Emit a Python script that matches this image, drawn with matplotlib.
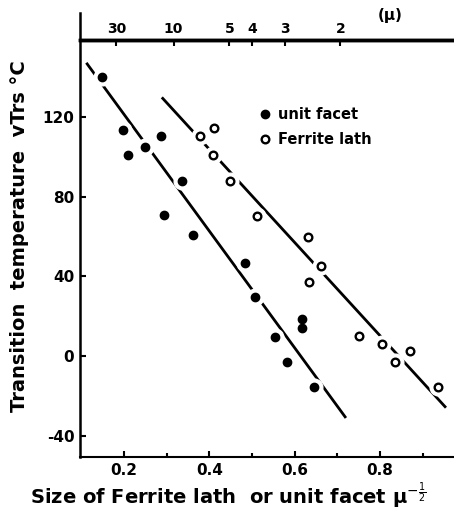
import numpy as np
import matplotlib.pyplot as plt
from matplotlib.lines import Line2D

# unit facet (filled) and Ferrite lath (open) points, x = size^-1/2
facet_x = [0.148, 0.198, 0.210, 0.249, 0.287, 0.294, 0.337, 0.362,
           0.483, 0.507, 0.554, 0.582, 0.618, 0.618, 0.646]
facet_y = [139.9, 113.4, 100.9, 104.7, 110.4, 70.6, 88.0, 60.7,
           46.8, 29.8, 9.4, -2.9, 18.4, 13.9, -15.4]
lath_x = [0.379, 0.411, 0.409, 0.448, 0.511, 0.630, 0.661, 0.634,
          0.751, 0.804, 0.870, 0.835, 0.935]
lath_y = [110.6, 114.4, 100.9, 88.0, 70.4, 59.6, 45.3, 37.3,
          10.0, 6.0, 2.7, -3.0, -15.6]

# fitted lines drawn by hand in the original
facet_fit_x = [0.114, 0.718]
facet_fit_y = [146.6, -30.5]
lath_fit_x = [0.291, 0.952]
lath_fit_y = [129.3, -25.4]

yticks = [-40, 0, 40, 80, 120]
xticks = [0.2, 0.4, 0.6, 0.8]
xtick_labels = ['0.2', '0.4', '0.6', '0.8']
size_um = [30, 10, 5, 4, 3, 2]

fig = plt.figure(figsize=(4.54, 5.13), dpi=100, facecolor='white')
ax = fig.add_axes([0.176, 0.109, 0.824, 0.813])

ax.plot(facet_fit_x, facet_fit_y, color='black', lw=2, zorder=1)
ax.plot(lath_fit_x, lath_fit_y, color='black', lw=2, zorder=1)

# white halos make the breaks in the lines around the points
ax.plot(facet_x, facet_y, 'o', ms=12, color='white', zorder=2)
ax.plot(lath_x, lath_y, 'o', ms=12, color='white', zorder=2)
ax.plot(facet_x, facet_y, 'o', ms=6, color='black', zorder=3)
ax.plot(lath_x, lath_y, 'o', ms=5.5, mfc='white', mec='black', mew=1.7, zorder=3)

ax.set_xlim(0.097, 0.973)
ax.set_ylim(-50.7, 158.6)

ax.set_yticks(yticks)
ax.set_yticklabels([str(v) for v in yticks])
ax.set_xticks(xticks)
ax.set_xticklabels(xtick_labels)
ax.set_xticks(np.arange(0.3, 0.9, 0.2), minor=True)
ax.tick_params(axis='both', direction='in', length=4, width=1.5,
               labelsize=11, pad=4)
ax.tick_params(axis='x', which='minor', direction='in', length=3, width=1.5)
for lbl in ax.get_xticklabels() + ax.get_yticklabels():
    lbl.set_fontweight('bold')

ax.spines['right'].set_visible(False)
ax.spines['top'].set_linewidth(2.5)
ax.spines['left'].set_linewidth(1.8)
ax.spines['bottom'].set_linewidth(1.5)

# left spine runs up past the top axis
ax.add_line(Line2D([0, 0], [1, 1.065], transform=ax.transAxes, color='black',
                   lw=1.8, clip_on=False))

top = ax.secondary_xaxis('top')
top.set_xticks(np.power(size_um, -0.5))
top.set_xticklabels([str(s) for s in size_um])
top.tick_params(direction='in', length=4, width=1.5, labelsize=10, pad=3)
for lbl in top.get_xticklabels():
    lbl.set_fontweight('bold')
top.spines['top'].set_linewidth(2.5)
ax.text(0.83, 1.04, '(μ)', transform=ax.transAxes, fontsize=11,
        fontweight='bold', ha='center', va='bottom')

ax.set_ylabel('Transition  temperature  vTrs °C', fontsize=14,
              fontweight='bold')
ax.yaxis.set_label_coords(-0.135, 0.53)
ax.set_xlabel(r'Size of Ferrite lath  or unit facet μ$^{-\frac{1}{2}}$',
              fontsize=14, fontweight='bold')
ax.xaxis.set_label_coords(0.395, -0.055)

h1 = Line2D([], [], marker='o', ls='none', ms=6, color='black')
h2 = Line2D([], [], marker='o', ls='none', ms=5.5, mfc='white', mec='black', mew=1.7)
ax.legend([h1, h2], ['unit facet', 'Ferrite lath'], loc='upper left',
          bbox_to_anchor=(0.445, 0.87), frameon=False,
          handlelength=0.8, handletextpad=0.5, labelspacing=0.65,
          prop={'weight': 'bold', 'size': 10.5})

fig.savefig('out.png', dpi=100, facecolor='white')
